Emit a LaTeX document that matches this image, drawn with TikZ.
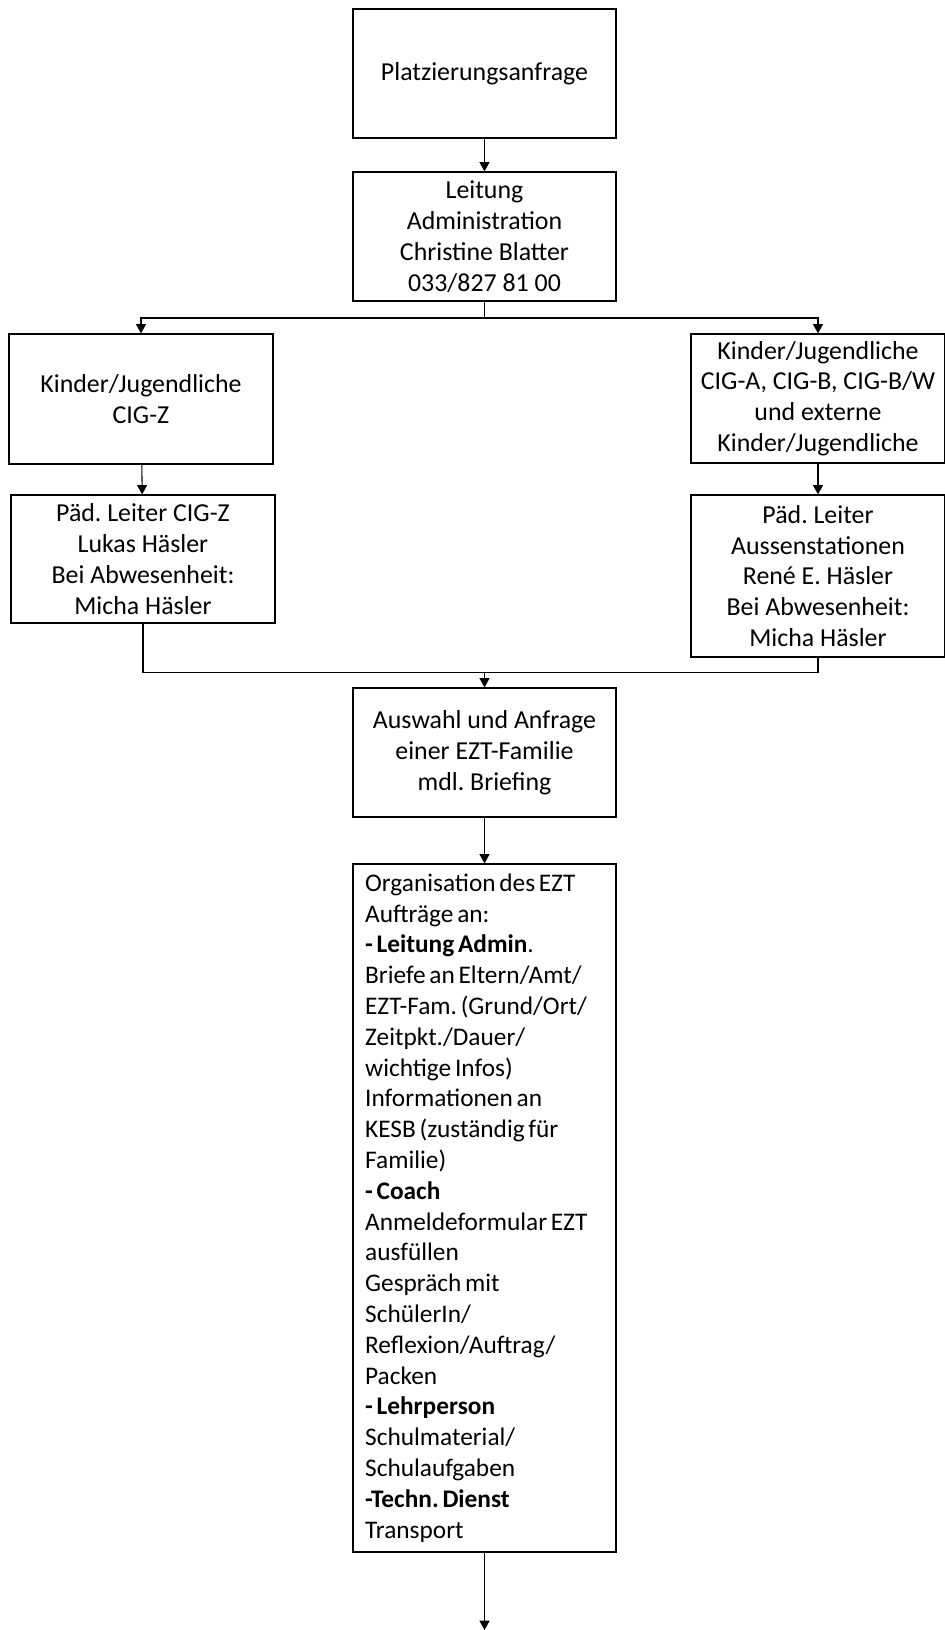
\documentclass[tikz,border=0pt]{standalone}
\usepackage{fontspec}
\setmainfont{Carlito}
\usetikzlibrary{arrows.meta}
\frenchspacing
\newcommand\orgspacing{\spaceskip=2.8pt\relax}

\tikzset{
  box/.style={draw, line width=0.9pt, align=center, inner sep=0pt,
    font=\fontsize{19.4}{23.1}\selectfont},
  link/.style={line width=0.8pt, -{Triangle[width=7.5pt,length=7pt]}},
  wire/.style={line width=0.8pt}
}

\begin{document}
\begin{tikzpicture}[x=0.75pt,y=-0.75pt]
  \useasboundingbox (0,0) rectangle (945,1630);

  % Request box
  \node [box, minimum width=197.25pt, minimum height=96.75pt] (anfrage) at (484.5,73.5) {Platzierungsanfrage};%

  % Administration box
  \node [box, minimum width=197.25pt, minimum height=96.75pt] (leitung) at (484.5,236.5)
    {Leitung\\Administration\\Christine Blatter\\033/827 81 00};%

  % Left branch CIG-Z
  \node [box, minimum width=198pt, minimum height=97.5pt] (cigz) at (141,399)
    {Kinder/Jugendliche\\CIG-Z};%
  \node [box, minimum width=198pt, minimum height=96pt] (paedz) at (143,559)
    {Päd. Leiter CIG-Z\\Lukas Häsler\\Bei Abwesenheit:\\Micha Häsler};%

  % Right branch external
  \node [box, minimum width=190.5pt, minimum height=96.75pt] (cigab) at (818,398.5)
    {Kinder/Jugendliche\\CIG-A, CIG-B, CIG-B/W\\und externe\\Kinder/Jugendliche};%
  \node [box, minimum width=190.5pt, minimum height=121.5pt] (paedaus) at (818,576)
    {Päd. Leiter\\Aussenstationen\\René E. Häsler\\Bei Abwesenheit:\\Micha Häsler};%

  % Selection box
  \node [box, minimum width=197.25pt, minimum height=96.75pt] (auswahl) at (484.5,752.5)
    {Auswahl und Anfrage\\einer EZT-Familie\\mdl. Briefing};%

  % Organisation box
  \node [box, minimum width=197.25pt, minimum height=516pt, text width=179pt, align=left,
    font=\fontsize{19}{23.1}\selectfont] (org) at (484.5,1208)
    {\orgspacing Organisation des EZT\\
     Aufträge an:\\
     \textbf{- Leitung Admin}.\\
     Briefe an Eltern/Amt/\\
     EZT-Fam. (Grund/Ort/\\
     Zeitpkt./Dauer/\\
     wichtige Infos)\\
     Informationen an\\
     KESB (zuständig für\\
     Familie)\\
     \textbf{- Coach}\\
     Anmeldeformular EZT\\
     ausfüllen\\
     Gespräch mit\\
     SchülerIn/\\
     Reflexion/Auftrag/\\
     Packen\\
     \textbf{- Lehrperson}\\
     Schulmaterial/\\
     Schulaufgaben\\
     \textbf{-Techn. Dienst}\\
     Transport};%

  % Split and merge points
  \coordinate (split) at (484.5,318);
  \coordinate (merge) at (484.5,672.7);
  \coordinate (ende) at (484.5,1630);

  % Connectors
  \draw [link] (anfrage) -- (leitung);%
  \draw [wire] (leitung) -- (split);%
  \draw [link] (split) -| (cigz.north);%
  \draw [link] (split) -| (cigab.north);%
  \draw [link] (cigz) -- (paedz);%
  \draw [link] (cigab) -- (paedaus);%
  \draw [wire] (paedz.south) |- (merge);%
  \draw [wire] (paedaus.south) |- (merge);%
  \draw [link] (merge) -- (auswahl);%
  \draw [link] (auswahl) -- (org);%
  \draw [link] (org) -- (ende);%
\end{tikzpicture}
\end{document}
